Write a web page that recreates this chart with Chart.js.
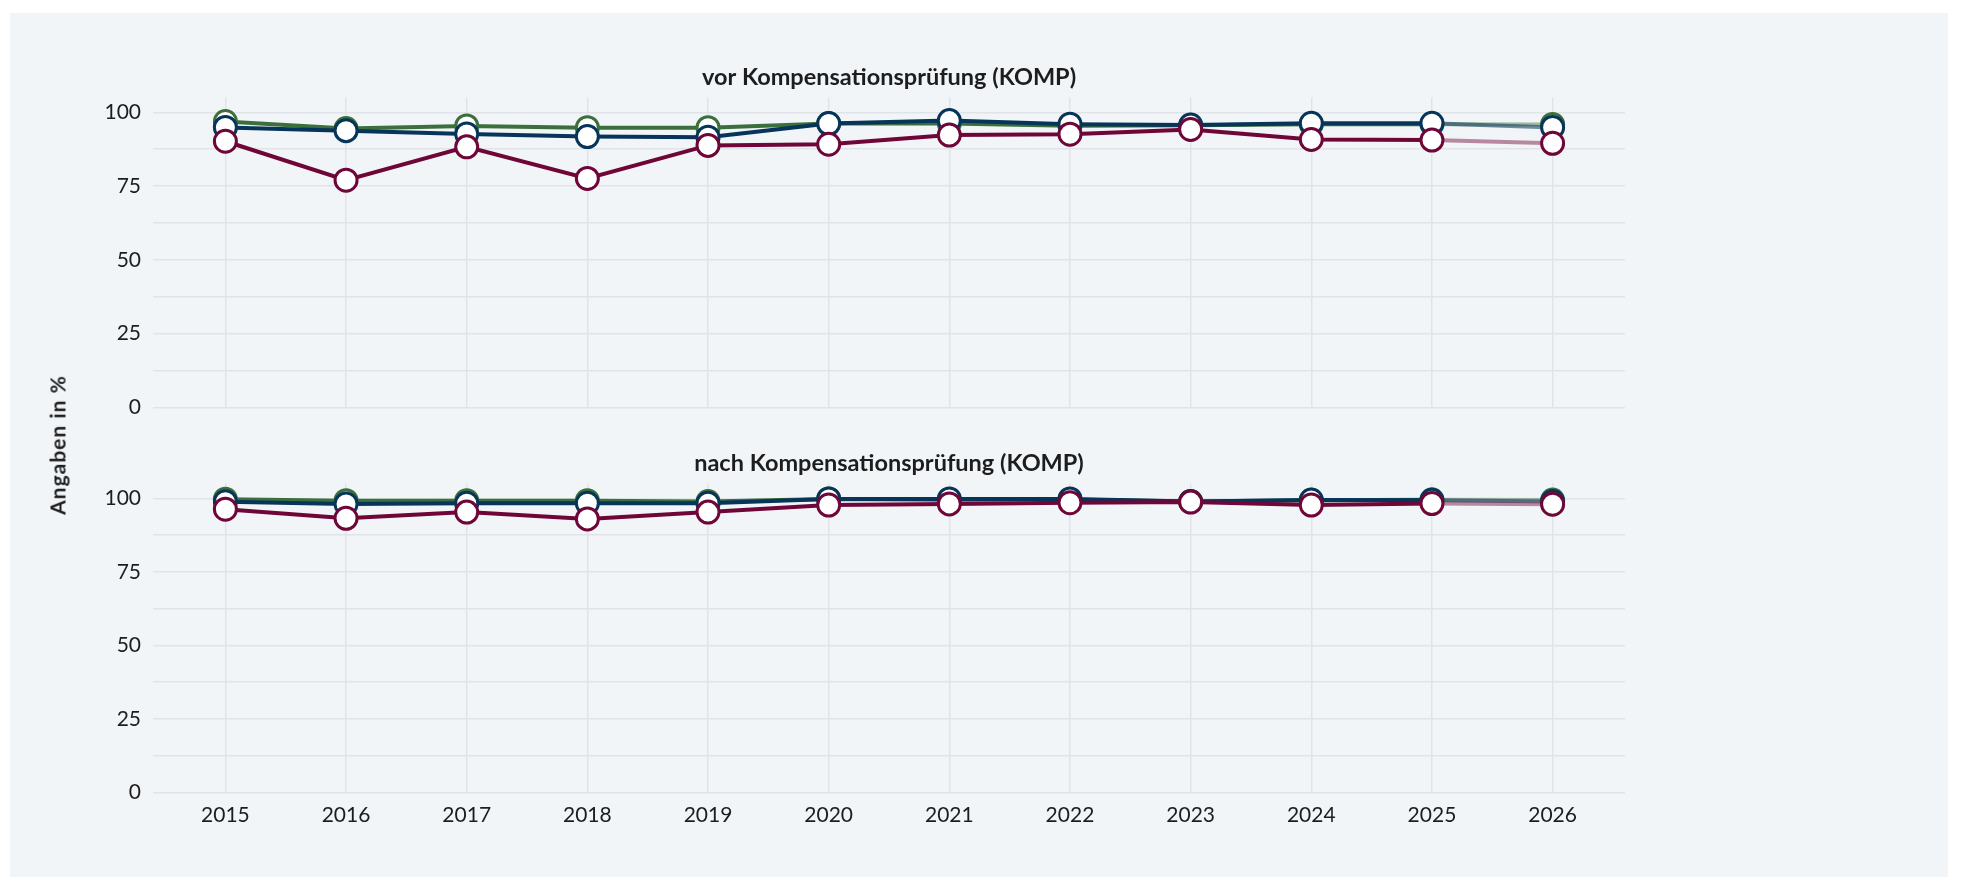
<!DOCTYPE html>
<html>
<head>
<meta charset="utf-8">
<script src="https://cdn.jsdelivr.net/npm/chart.js@4/dist/chart.umd.min.js"></script>
<style>
  body { margin: 0; background: #fff; font-family: Lato, sans-serif; }
  #panel { position: absolute; left: 10px; top: 13px; width: 1938px; height: 864px; background: #f2f5f8; }
  .box { position: absolute; left: 0; width: 1778px; }
  #ytitle { position: absolute; left: 57px; top: 445px; transform: translate(-50%, -50%) rotate(-90deg);
            font: bold 21px Lato, sans-serif; letter-spacing: 1px; color: #1d1d1d; white-space: nowrap; }
</style>
</head>
<body>
<div id="panel"></div>
<div class="box" style="top:20px;height:412px"><canvas id="vor"></canvas></div>
<div class="box" style="top:410px;height:430px"><canvas id="nach"></canvas></div>
<div id="ytitle">Angaben in %</div>
<script>
// Jahre
const years = [2015, 2016, 2017, 2018, 2019, 2020, 2021, 2022, 2023, 2024, 2025, 2026];
const yTicks = [0, 12.5, 25, 37.5, 50, 62.5, 75, 87.5, 100];

// vor Kompensationsprüfung
const vorGreen  = [96.9, 94.5, 95.4, 94.8, 94.8, 96.2, 96.2, 95.5, 95.6, 96.0, 96.0, 95.9];
const vorNavy   = [94.9, 93.8, 92.7, 91.8, 91.6, 96.2, 97.2, 96.0, 95.7, 96.3, 96.3, 94.9];
const vorMaroon = [90.2, 77.0, 88.3, 77.6, 88.8, 89.2, 92.3, 92.6, 94.2, 90.8, 90.6, 89.5];

// nach Kompensationsprüfung
const nachGreen  = [99.7, 99.2, 99.2, 99.2, 98.9, 99.8, 99.5, 99.6, 98.9, 99.3, 99.5, 99.4];
const nachNavy   = [98.8, 98.1, 98.3, 98.3, 98.3, 99.8, 99.8, 99.8, 98.9, 99.4, 99.3, 98.9];
const nachMaroon = [96.3, 93.2, 95.3, 93.0, 95.3, 97.7, 98.1, 98.5, 98.7, 97.7, 98.2, 98.0];

const colors = {
  green:  ['#3b6f3c', 'rgba(59,111,60,0.45)'],
  navy:   ['#073459', 'rgba(7,52,89,0.55)'],
  maroon: ['#6e0638', 'rgba(110,6,56,0.45)']
};

function series(label, values, c, order) {
  return {
    label: label,
    data: values.map((v, i) => ({ x: years[i], y: v })),
    borderColor: colors[c][0],
    borderWidth: 4,
    pointRadius: 11,
    pointHoverRadius: 11,
    pointBorderWidth: 3,
    pointBackgroundColor: '#fff',
    pointBorderColor: colors[c][0],
    order: order,
    segment: {
      // letzter Abschnitt (Prognose) blasser
      borderColor: ctx => ctx.p1DataIndex === years.length - 1 ? colors[c][1] : undefined
    }
  };
}

// Titel über der Zeichenfläche
const subTitle = {
  id: 'subTitle',
  afterDraw(chart, args, opts) {
    const a = chart.chartArea, ctx = chart.ctx;
    ctx.save();
    ctx.font = 'bold 23.5px Lato, sans-serif';
    ctx.fillStyle = '#1d1d1d';
    ctx.textAlign = 'center';
    ctx.textBaseline = 'middle';
    ctx.fillText(opts.text, (a.left + a.right) / 2, a.top - 20);
    ctx.restore();
  }
};

function makeChart(id, title, data, showX, pad) {
  return new Chart(document.getElementById(id), {
    type: 'line',
    data: {
      datasets: [
        series('Gruppe A', data[0], 'green', 3),
        series('Gruppe B', data[1], 'navy', 2),
        series('Gruppe C', data[2], 'maroon', 1)
      ]
    },
    options: {
      responsive: true,
      maintainAspectRatio: false,
      animation: false,
      layout: { padding: { top: pad[0], bottom: pad[1], left: 0, right: 153 } },
      plugins: {
        legend: { display: false },
        tooltip: { enabled: false },
        subTitle: { text: title }
      },
      scales: {
        x: {
          type: 'linear',
          min: 2014.4,
          max: 2026.6,
          afterBuildTicks: s => { s.ticks = years.map(v => ({ value: v })); },
          afterFit: s => { s.height = showX ? 34 : 0; },
          border: { display: false },
          grid: { color: '#e0e4e9', lineWidth: 1.5, drawTicks: false },
          ticks: {
            display: showX,
            autoSkip: false,
            maxRotation: 0,
            padding: 10,
            color: '#1d1d1d',
            font: { family: 'Lato', size: 21 },
            callback: v => String(v)
          }
        },
        y: {
          min: 0,
          max: 105,
          afterBuildTicks: s => { s.ticks = yTicks.map(v => ({ value: v })); },
          afterFit: s => { s.width = 153; },
          border: { display: false },
          grid: { color: '#e0e4e9', lineWidth: 1.5, drawTicks: false },
          ticks: {
            autoSkip: false,
            padding: 12,
            color: '#1d1d1d',
            font: { family: 'Lato', size: 21 },
            callback: v => (v % 25 === 0 ? String(v) : '')
          }
        }
      }
    },
    plugins: [subTitle]
  });
}

makeChart('vor', 'vor Kompensationsprüfung (KOMP)', [vorGreen, vorNavy, vorMaroon], false, [77.6, 3.3]);
makeChart('nach', 'nach Kompensationsprüfung (KOMP)', [nachGreen, nachNavy, nachMaroon], true, [73.6, 13.7]);
</script>
</body>
</html>
